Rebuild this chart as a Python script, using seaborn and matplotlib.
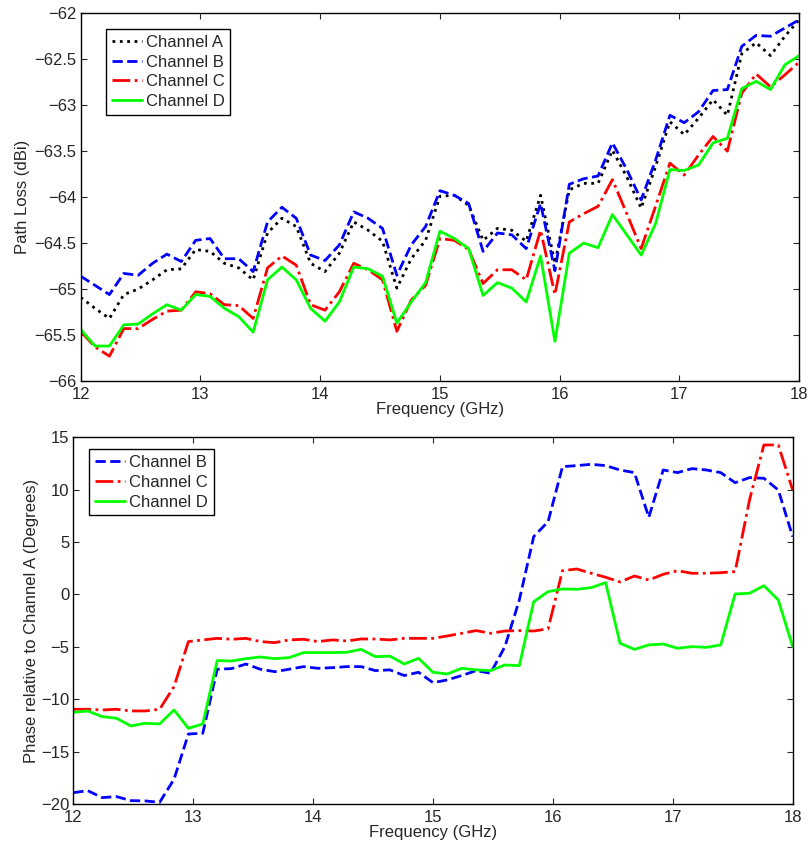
import numpy as np
import pandas as pd
import matplotlib
matplotlib.use('Agg')
import matplotlib.pyplot as plt
import seaborn as sns

# Frequency grid (GHz), 0.12 GHz step
freq = np.linspace(12, 18, 51)

# Path loss (dBi), top panel
loss_a = [-65.09, -65.21, -65.32, -65.06, -65.00, -64.90, -64.79, -64.78, -64.57, -64.59,
          -64.72, -64.77, -64.90, -64.39, -64.23, -64.32, -64.72, -64.81, -64.61, -64.27,
          -64.36, -64.48, -64.99, -64.67, -64.47, -63.99, -63.98, -64.09, -64.47, -64.34,
          -64.36, -64.48, -63.98, -64.72, -63.92, -63.85, -63.85, -63.49, -63.78, -64.12,
          -63.67, -63.18, -63.32, -63.14, -62.94, -63.11, -62.44, -62.32, -62.46, -62.25,
          -62.07]
loss_b = [-64.86, -64.96, -65.06, -64.83, -64.85, -64.72, -64.62, -64.70, -64.47, -64.45,
          -64.67, -64.67, -64.81, -64.27, -64.11, -64.23, -64.63, -64.69, -64.52, -64.16,
          -64.23, -64.34, -64.85, -64.52, -64.32, -63.93, -63.98, -64.07, -64.59, -64.39,
          -64.41, -64.56, -64.07, -64.80, -63.86, -63.80, -63.77, -63.41, -63.70, -64.03,
          -63.60, -63.11, -63.19, -63.07, -62.84, -62.83, -62.36, -62.24, -62.25, -62.16,
          -62.07]
loss_c = [-65.46, -65.63, -65.73, -65.43, -65.43, -65.33, -65.24, -65.23, -65.03, -65.05,
          -65.17, -65.18, -65.32, -64.77, -64.64, -64.74, -65.17, -65.23, -65.03, -64.72,
          -64.79, -64.90, -65.46, -65.12, -64.96, -64.45, -64.47, -64.57, -64.94, -64.79,
          -64.79, -64.90, -64.36, -65.06, -64.27, -64.18, -64.10, -63.81, -64.18, -64.56,
          -64.10, -63.63, -63.76, -63.54, -63.34, -63.50, -62.87, -62.66, -62.80, -62.67,
          -62.53]
loss_d = [-65.44, -65.62, -65.62, -65.39, -65.38, -65.27, -65.17, -65.23, -65.06, -65.08,
          -65.21, -65.30, -65.47, -64.90, -64.76, -64.90, -65.21, -65.35, -65.14, -64.76,
          -64.78, -64.86, -65.37, -65.14, -64.93, -64.37, -64.45, -64.56, -65.07, -64.93,
          -64.99, -65.14, -64.64, -65.57, -64.61, -64.50, -64.55, -64.19, -64.41, -64.63,
          -64.29, -63.70, -63.71, -63.65, -63.41, -63.36, -62.82, -62.74, -62.83, -62.56,
          -62.46]

# Phase relative to channel A (degrees), bottom panel
phase_b = [-18.92, -18.73, -19.39, -19.30, -19.68, -19.71, -19.84, -17.64, -13.32, -13.25,
           -7.14, -7.08, -6.64, -7.14, -7.37, -7.14, -6.89, -7.05, -6.99, -6.89,
           -6.89, -7.27, -7.20, -7.74, -7.43, -8.42, -8.16, -7.74, -7.27, -7.52,
           -4.98, -0.53, 5.52, 6.95, 12.20, 12.30, 12.42, 12.30, 11.88, 11.63,
           7.36, 11.88, 11.63, 12.01, 11.88, 11.63, 10.67, 11.15, 11.09, 9.97,
           5.52]
phase_c = [-10.96, -10.96, -11.03, -10.96, -11.12, -11.12, -10.96, -8.80, -4.50, -4.34,
           -4.19, -4.28, -4.19, -4.50, -4.60, -4.34, -4.28, -4.50, -4.34, -4.44,
           -4.25, -4.25, -4.34, -4.19, -4.19, -4.19, -3.96, -3.71, -3.45, -3.71,
           -3.49, -3.45, -3.49, -3.28, 2.27, 2.43, 2.02, 1.64, 1.19, 1.76,
           1.38, 1.92, 2.27, 2.02, 2.02, 2.08, 2.18, 9.02, 14.27, 14.27,
           9.97]
phase_d = [-11.25, -11.12, -11.66, -11.82, -12.55, -12.30, -12.36, -11.03, -12.78, -12.36,
           -6.32, -6.35, -6.13, -5.97, -6.13, -6.03, -5.55, -5.55, -5.55, -5.52,
           -5.24, -5.94, -5.88, -6.64, -6.10, -7.43, -7.59, -7.05, -7.20, -7.27,
           -6.73, -6.80, -0.69, 0.27, 0.52, 0.49, 0.65, 1.13, -4.66, -5.24,
           -4.82, -4.73, -5.14, -4.98, -5.05, -4.82, 0.05, 0.11, 0.84, -0.53,
           -4.98]

sns.set_theme(style="ticks")
plt.rcParams['font.family'] = ['Liberation Sans', 'DejaVu Sans']
plt.rcParams['axes.unicode_minus'] = True
plt.rcParams['xtick.direction'] = 'in'
plt.rcParams['ytick.direction'] = 'in'
plt.rcParams['xtick.top'] = True
plt.rcParams['ytick.right'] = True

fs = 12

fig = plt.figure(figsize=(8.11, 8.47), dpi=100)
ax1 = fig.add_axes([0.0995, 0.5502, 0.886, 0.4341])
ax2 = fig.add_axes([0.0904, 0.0508, 0.887, 0.4329])

styles = {
    'Channel A': dict(color='black', linestyle=':'),
    'Channel B': dict(color=(0, 0, 1), linestyle='--'),
    'Channel C': dict(color=(1, 0, 0), linestyle='-.'),
    'Channel D': dict(color=(0, 1, 0), linestyle='-'),
}

top = {'Channel A': loss_a, 'Channel B': loss_b, 'Channel C': loss_c, 'Channel D': loss_d}
for name, vals in top.items():
    sns.lineplot(x=freq, y=vals, ax=ax1, label=name, linewidth=2, **styles[name])

bottom = {'Channel B': phase_b, 'Channel C': phase_c, 'Channel D': phase_d}
for name, vals in bottom.items():
    sns.lineplot(x=freq, y=vals, ax=ax2, label=name, linewidth=2, **styles[name])

ax1.set_xlim(12, 18)
ax1.set_ylim(-66, -62)
ax1.set_yticks(np.arange(-66, -61.9, 0.5))
ax1.set_yticklabels(['\u221266', '\u221265.5', '\u221265', '\u221264.5', '\u221264',
                     '\u221263.5', '\u221263', '\u221262.5', '\u221262'])
ax1.set_ylabel('Path Loss (dBi)', fontsize=fs, labelpad=3)
ax1.set_xlabel('Frequency (GHz)', fontsize=fs, labelpad=0)

ax2.set_xlim(12, 18)
ax2.set_ylim(-20, 15)
ax2.set_yticks(np.arange(-20, 16, 5))
ax2.set_ylabel('Phase relative to Channel A (Degrees)', fontsize=fs, labelpad=1)
ax2.set_xlabel('Frequency (GHz)', fontsize=fs, labelpad=0)

for ax in (ax1, ax2):
    ax.set_xticks(range(12, 19))
    ax.tick_params(labelsize=fs, length=4.5, width=0.8)
    ax.tick_params(axis='x', pad=4)
    ax.tick_params(axis='y', pad=3)
    for sp in ax.spines.values():
        sp.set_visible(True)
        sp.set_linewidth(1)
        sp.set_color('black')
    leg = ax.legend(loc='upper left', fontsize=fs, frameon=True, fancybox=False,
                    edgecolor='black', handlelength=1.8, borderpad=0.35,
                    labelspacing=0.28, handletextpad=0.25, borderaxespad=0)
    leg.get_frame().set_linewidth(1)
    leg.get_frame().set_alpha(1)

ax1.legend_.set_bbox_to_anchor((0.035, 0.957))
ax2.legend_.set_bbox_to_anchor((0.022, 0.967))

fig.savefig('out.png', dpi=100)
